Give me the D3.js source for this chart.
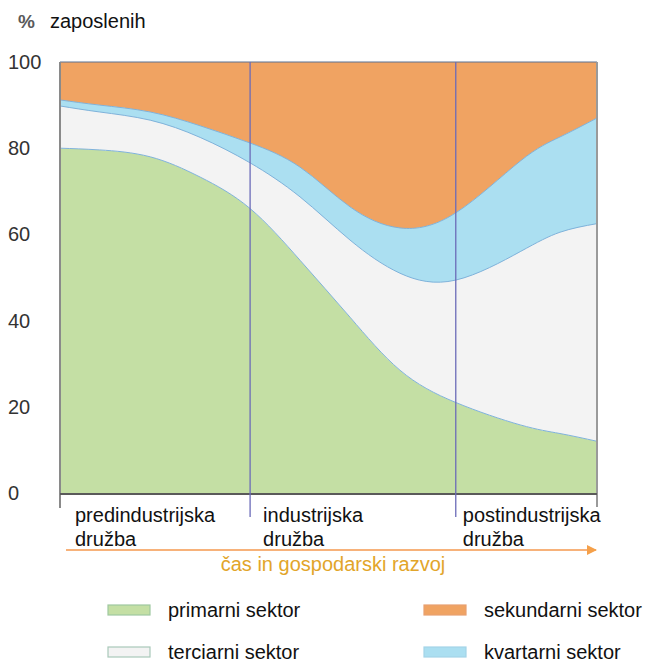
<!DOCTYPE html>
<html>
<head>
<meta charset="utf-8">
<script src="https://cdn.jsdelivr.net/npm/d3@7"></script>
<style>
  body { margin: 0; background: #fff; }
  text { font-family: "Liberation Sans", Arial, sans-serif; }
</style>
</head>
<body>
<svg width="647" height="664"></svg>
<script>
// time (0 = start, 100 = end of the axis)
const cas = [0, 7.4, 16.8, 26.1, 35.4, 44.7, 54.0, 63.3, 73.7, 85.7, 93.1, 100];
// share of employed per sector (%)
const primarni = [80, 79.6, 78, 73.3, 66, 54, 40.8, 28.5, 21, 15.8, 13.8, 12];
const terciarni = [9.8, 8.8, 8.5, 9.2, 10.6, 14.7, 17.9, 22.5, 28.4, 40.2, 46.7, 50.5];
const kvartarni = [1.4, 1.6, 1.9, 2.7, 4.6, 6.9, 7.7, 10.5, 15.6, 21, 22.1, 24.5];
const sekundarni = [8.8, 10, 11.6, 14.8, 18.8, 24.4, 33.6, 38.5, 35, 23, 17.4, 13];

const obdobjaZacetek = [0, 35.4, 73.7];
const obdobja = ['predindustrijska družba', 'industrijska družba', 'postindustrijska družba'];
const yTicks = [0, 20, 40, 60, 80, 100];

const sektorji = ['primarni', 'terciarni', 'kvartarni', 'sekundarni'];
const barve = { primarni: '#c4dfa4', terciarni: '#f3f3f3', kvartarni: '#abdff1', sekundarni: '#f0a362' };

const svg = d3.select('svg');
const mLeft = 60, mRight = 597, mTop = 62, mBottom = 493;

const x = d3.scaleLinear().domain([0, 100]).range([mLeft, mRight]);
const y = d3.scaleLinear().domain([0, 100]).range([mBottom, mTop]);

const rows = cas.map((t, i) => ({
  t,
  primarni: primarni[i],
  terciarni: terciarni[i],
  kvartarni: kvartarni[i],
  sekundarni: sekundarni[i]
}));

const series = d3.stack().keys(sektorji)(rows);

const krivulja = d3.curveNatural;

const area = d3.area()
  .curve(krivulja)
  .x((d) => x(d.data.t))
  .y0((d) => y(d[0]))
  .y1((d) => y(d[1]));

svg.append('g')
  .selectAll('path')
  .data(series)
  .join('path')
  .attr('fill', (d) => barve[d.key])
  .attr('d', area);

// thin boundary lines between the layers
const line = d3.line()
  .curve(krivulja)
  .x((d) => x(d.data.t))
  .y((d) => y(d[1]));

svg.append('g')
  .selectAll('path')
  .data(series.slice(0, 3))
  .join('path')
  .attr('fill', 'none')
  .attr('stroke', '#7fb2da')
  .attr('stroke-width', 1)
  .attr('d', line);

// frame
svg.append('line')
  .attr('x1', mLeft).attr('x2', mRight)
  .attr('y1', y(100)).attr('y2', y(100))
  .attr('stroke', '#5c7392').attr('stroke-width', 1.2);
svg.append('line')
  .attr('x1', mLeft).attr('x2', mLeft)
  .attr('y1', y(100)).attr('y2', 508)
  .attr('stroke', '#8a8a8a').attr('stroke-width', 2);
svg.append('line')
  .attr('x1', mRight).attr('x2', mRight)
  .attr('y1', y(100)).attr('y2', 507)
  .attr('stroke', '#9a9a9a').attr('stroke-width', 2);
svg.append('line')
  .attr('x1', mLeft).attr('x2', mRight)
  .attr('y1', y(0) + 1).attr('y2', y(0) + 1)
  .attr('stroke', '#5a5a5a').attr('stroke-width', 2);

// period separators
svg.append('g')
  .selectAll('line')
  .data(obdobjaZacetek.slice(1))
  .join('line')
  .attr('x1', (d) => x(d)).attr('x2', (d) => x(d))
  .attr('y1', y(100)).attr('y2', 517)
  .attr('stroke', '#6b6bb8').attr('stroke-width', 1.3);

// y axis
const yAxis = svg.append('g')
  .attr('transform', `translate(${mLeft},0)`)
  .call(d3.axisLeft(y).tickValues(yTicks).tickSize(0));
yAxis.select('.domain').remove();
yAxis.selectAll('text')
  .attr('x', 8 - mLeft)
  .attr('text-anchor', 'start')
  .attr('font-size', 20)
  .attr('font-family', '"Liberation Sans", Arial, sans-serif')
  .attr('fill', '#333');

svg.append('text').attr('x', 18).attr('y', 28)
  .attr('font-size', 19).attr('font-weight', 'bold').attr('fill', '#5a5a5a').text('%');
svg.append('text').attr('x', 50).attr('y', 28)
  .attr('font-size', 20).attr('fill', '#111').text('zaposlenih');

// period labels
const odmik = [15, 13, 7];
const per = svg.append('g')
  .selectAll('text')
  .data(obdobja)
  .join('text')
  .attr('font-size', 20)
  .attr('fill', '#111');
per.each(function (d, i) {
  const words = d.split(' ');
  const t = d3.select(this);
  const x0 = x(obdobjaZacetek[i]) + odmik[i];
  words.forEach((w, j) => {
    t.append('tspan').attr('x', x0).attr('y', 522 + j * 24).text(w);
  });
});

// arrow
svg.append('defs').append('marker')
  .attr('id', 'arr')
  .attr('viewBox', '0 0 10 10')
  .attr('refX', 9).attr('refY', 5)
  .attr('markerWidth', 5).attr('markerHeight', 5)
  .attr('orient', 'auto')
  .append('path').attr('d', 'M0,0L10,5L0,10z').attr('fill', '#f5a04a');
svg.append('line')
  .attr('x1', 66).attr('x2', 596)
  .attr('y1', 550).attr('y2', 550)
  .attr('stroke', '#f7b27a').attr('stroke-width', 2)
  .attr('marker-end', 'url(#arr)');
svg.append('text').attr('x', 333).attr('y', 571)
  .attr('text-anchor', 'middle')
  .attr('font-size', 20).attr('fill', '#e2a52a')
  .text('čas in gospodarski razvoj');

// legend
const legenda = [
  { key: 'primarni', label: 'primarni sektor', lx: 108, ly: 610, stroke: '#9fc8a0' },
  { key: 'sekundarni', label: 'sekundarni sektor', lx: 424, ly: 610, stroke: '#e8a070' },
  { key: 'terciarni', label: 'terciarni sektor', lx: 108, ly: 652, stroke: '#a9c9b9' },
  { key: 'kvartarni', label: 'kvartarni sektor', lx: 424, ly: 652, stroke: '#a4d4e8' }
];
const lg = svg.append('g').selectAll('g').data(legenda).join('g');
lg.append('rect')
  .attr('x', (d) => d.lx).attr('y', (d) => d.ly - 5)
  .attr('width', 42).attr('height', 10)
  .attr('fill', (d) => barve[d.key])
  .attr('stroke', (d) => d.stroke).attr('stroke-width', 1.2);
lg.append('text')
  .attr('x', (d) => d.lx + 60).attr('y', (d) => d.ly + 7)
  .attr('font-size', 20).attr('fill', '#111')
  .text((d) => d.label);
</script>
</body>
</html>
